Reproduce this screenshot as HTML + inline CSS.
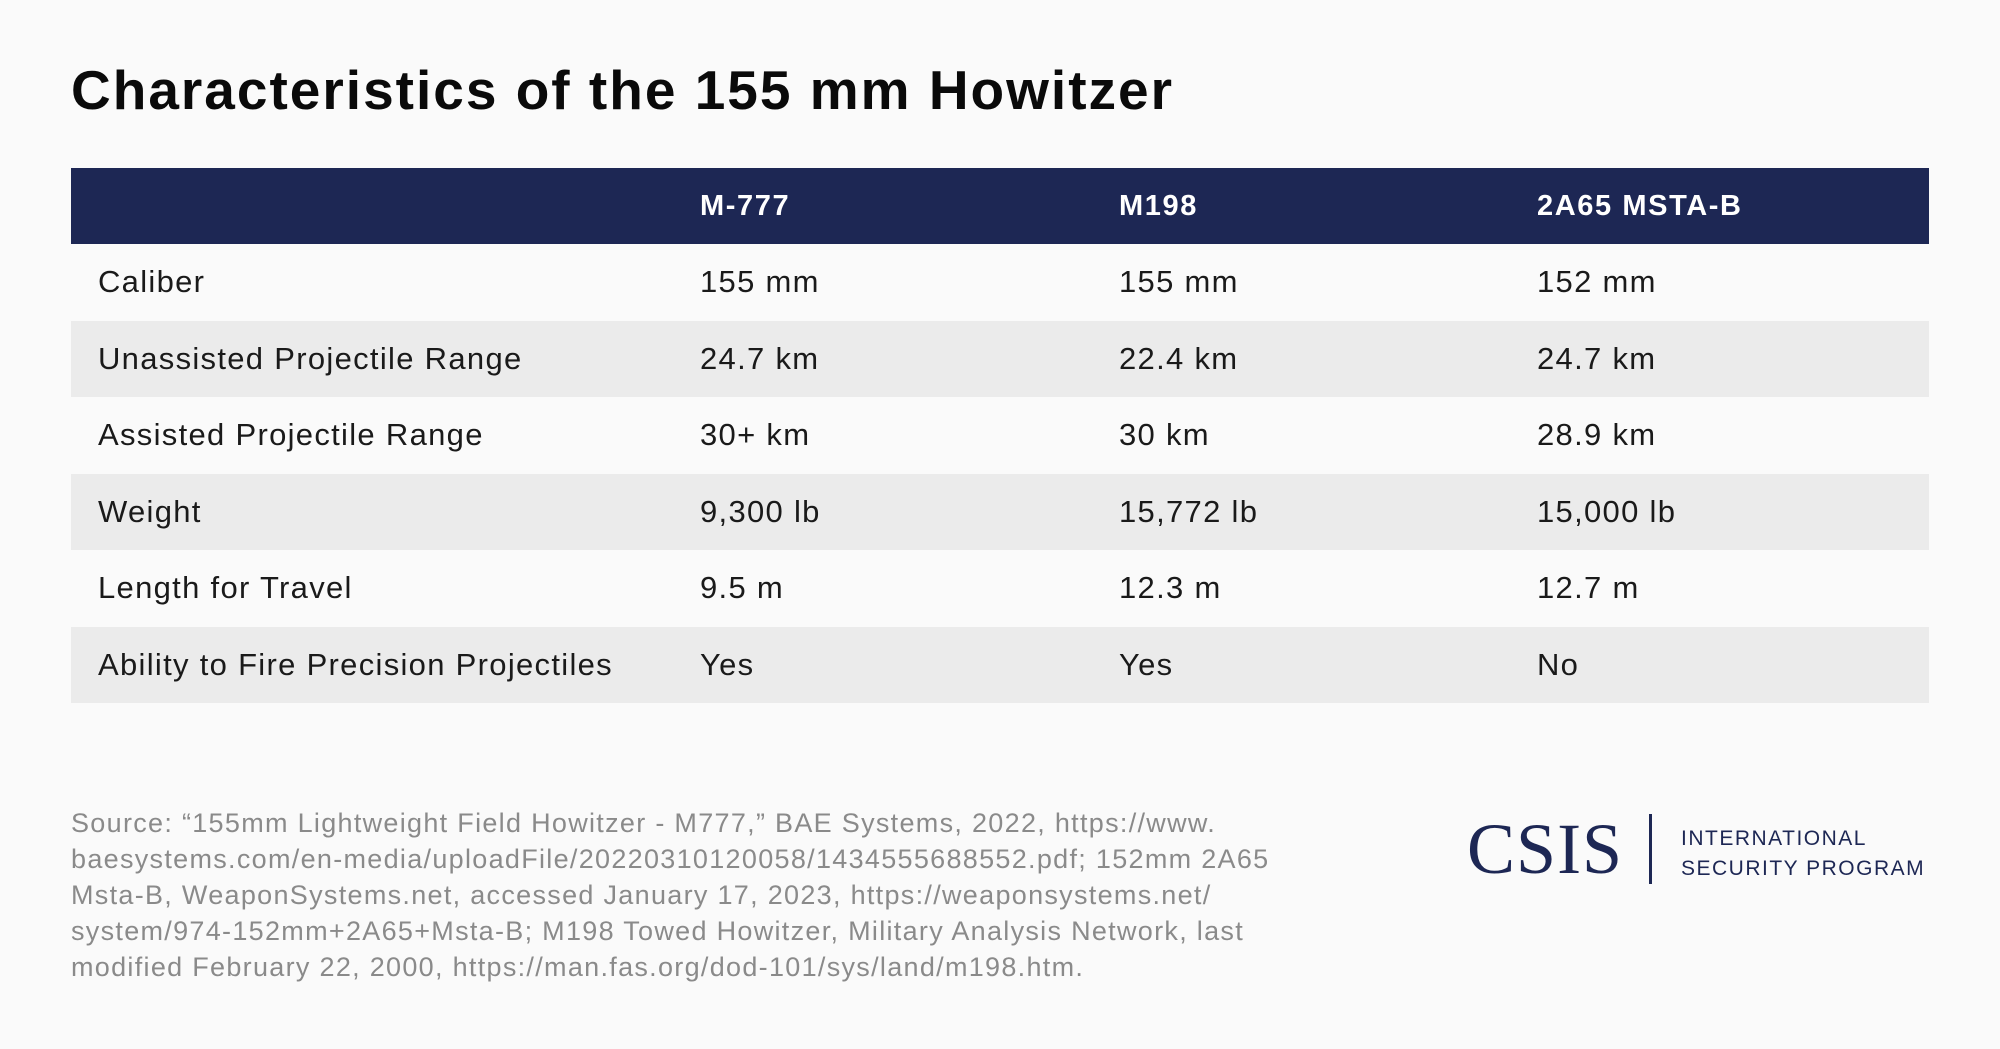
<!DOCTYPE html>
<html><head><meta charset="utf-8"><style>
body{margin:0;width:2000px;height:1049px;background:#fafafa;font-family:"Liberation Sans",sans-serif;position:relative;overflow:hidden;color:#1a1a1a}
.t{position:absolute;white-space:nowrap}
h1{position:absolute;left:71px;top:58px;margin:0;font-size:55px;font-weight:bold;color:#0a0a0a;letter-spacing:2px}
table{position:absolute;left:71px;top:168px;width:1858px;border-collapse:collapse;font-size:31px;letter-spacing:1.3px}
th{background:#1d2754;color:#fff;text-align:left;height:76px;padding:0;font-size:29px;letter-spacing:1.6px}
td{height:76.5px;padding:0}
tr:nth-child(odd) td{background:#ebebeb}
.c0{padding-left:27px;width:602px}.c1{width:419px}.c2{width:418px}
.src{position:absolute;left:71px;top:805px;font-size:27px;line-height:36px;color:#8a8a8a;width:1340px;letter-spacing:1.3px;white-space:nowrap}
</style></head><body>
<h1>Characteristics of the 155 mm Howitzer</h1>
<table>
<tr><th class="c0"></th><th class="c1">M-777</th><th class="c2">M198</th><th>2A65 MSTA-B</th></tr>
<tr><td class="c0">Caliber</td><td>155 mm</td><td>155 mm</td><td>152 mm</td></tr>
<tr><td class="c0">Unassisted Projectile Range</td><td>24.7 km</td><td>22.4 km</td><td>24.7 km</td></tr>
<tr><td class="c0">Assisted Projectile Range</td><td>30+ km</td><td>30 km</td><td>28.9 km</td></tr>
<tr><td class="c0">Weight</td><td>9,300 lb</td><td>15,772 lb</td><td>15,000 lb</td></tr>
<tr><td class="c0">Length for Travel</td><td>9.5 m</td><td>12.3 m</td><td>12.7 m</td></tr>
<tr><td class="c0">Ability to Fire Precision Projectiles</td><td>Yes</td><td>Yes</td><td>No</td></tr>
</table>
<div class="src">Source: “155mm Lightweight Field Howitzer - M777,” BAE Systems, 2022, https://www.<br>baesystems.com/en-media/uploadFile/20220310120058/1434555688552.pdf; 152mm 2A65<br>Msta-B, WeaponSystems.net, accessed January 17, 2023, https://weaponsystems.net/<br>system/974-152mm+2A65+Msta-B; M198 Towed Howitzer, Military Analysis Network, last<br>modified February 22, 2000, https://man.fas.org/dod-101/sys/land/m198.htm.</div>
<div class="t" style="left:1467px;top:808px;font-family:'Liberation Serif',serif;font-size:72px;color:#1d2754;letter-spacing:1px">CSIS</div>
<div style="position:absolute;left:1649px;top:814px;width:3px;height:70px;background:#1d2754"></div>
<div class="t" style="left:1681px;top:824px;font-size:21px;line-height:30px;color:#1d2754;letter-spacing:1.5px">INTERNATIONAL<br>SECURITY PROGRAM</div>
</body></html>
